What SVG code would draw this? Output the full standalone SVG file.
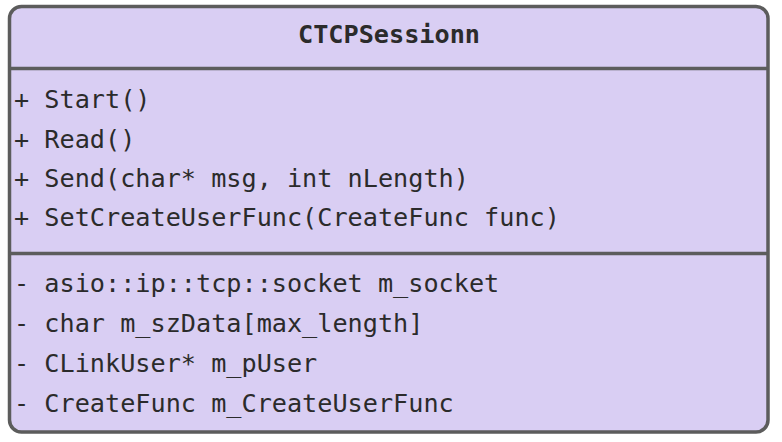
<svg xmlns="http://www.w3.org/2000/svg" width="782" height="442" viewBox="0 0 782 442">
<style>
.box{fill:#d9cef3;stroke:#5c5c5c;stroke-width:3.5}
.div{stroke:#5c5c5c;stroke-width:3.5}
.t{font-family:"DejaVu Sans Mono","Liberation Mono",monospace;font-size:25.2px;fill:#2b2b2b}
.title{font-weight:bold;text-anchor:middle}
</style>
<rect width="782" height="442" fill="#ffffff"/>
<g id="CTCPSessionn">
<rect class="box" x="9.5" y="6.5" width="758.5" height="425.5" rx="12" ry="12"/>
<line class="div" x1="9.5" y1="68.5" x2="768" y2="68.5"/>
<line class="div" x1="9.5" y1="253.5" x2="768" y2="253.5"/>
<text class="t title" x="389" y="43">CTCPSessionn</text>
<text class="t" x="14" y="108" xml:space="preserve">+ Start()</text>
<text class="t" x="14" y="147.5" xml:space="preserve">+ Read()</text>
<text class="t" x="14" y="187" xml:space="preserve">+ Send(char* msg, int nLength)</text>
<text class="t" x="14" y="226" xml:space="preserve">+ SetCreateUserFunc(CreateFunc func)</text>
<text class="t" x="14" y="292" xml:space="preserve">- asio::ip::tcp::socket m_socket</text>
<text class="t" x="14" y="332" xml:space="preserve">- char m_szData[max_length]</text>
<text class="t" x="14" y="372" xml:space="preserve">- CLinkUser* m_pUser</text>
<text class="t" x="14" y="412" xml:space="preserve">- CreateFunc m_CreateUserFunc</text>
</g>
<g id="connectors"/>
</svg>
